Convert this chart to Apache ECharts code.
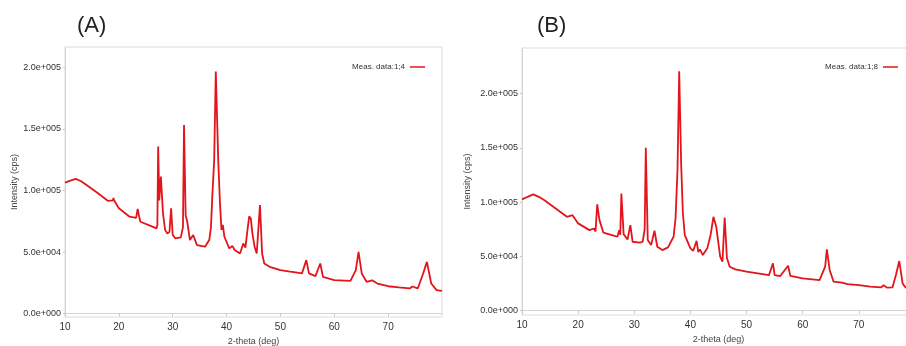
<!DOCTYPE html>
<html>
<head>
<meta charset="utf-8">
<script src="https://cdn.jsdelivr.net/npm/echarts@6/dist/echarts.min.js"></script>
<style>
  html, body { margin: 0; padding: 0; background: #fff; }
  #chart { width: 906px; height: 346px; }
</style>
</head>
<body>
<div id="chart"></div>
<script>
// 2-theta (deg) and intensity (cps)
const thetaA = [10, 11, 12, 13, 14, 16, 18, 18.9, 19, 19.1, 20, 22, 23.2, 23.5, 23.8, 24, 26, 27, 27.15, 27.3, 27.5, 27.8, 28.2, 28.6, 29, 29.4, 29.7, 30, 30.5, 31.5, 31.9, 32.1, 32.4, 32.7, 33.2, 33.8, 34.5, 36, 36.8, 37.1, 37.35, 37.7, 38.0, 38.45, 38.75, 39.05, 39.3, 39.6, 40.5, 41.1, 41.5, 42.5, 43.1, 43.5, 43.8, 44.2, 44.5, 44.8, 45.2, 45.6, 46.2, 46.6, 47, 48, 50, 51.8, 52, 52.2, 54, 54.8, 55.3, 56.5, 57.4, 57.9, 60, 63, 64, 64.5, 65.1, 66, 67, 67.3, 68, 70, 72, 74, 74.5, 75.5, 76.5, 77.2, 78, 79, 80]
const intensityA = [106400, 108000, 109400, 107500, 104500, 98200, 91500, 92000, 94000, 92000, 85500, 78700, 77800, 85000, 78000, 74600, 71100, 69200, 72000, 135700, 92000, 111300, 81000, 67800, 65100, 66500, 85500, 63800, 61000, 61900, 70000, 153300, 80000, 74600, 59700, 63800, 55600, 54300, 60000, 70000, 95000, 125000, 196700, 125000, 92000, 68000, 72000, 62400, 53000, 54800, 51600, 48800, 57000, 53500, 65000, 79000, 77300, 65000, 54300, 48800, 88200, 48800, 40700, 38000, 35300, 34000, 35500, 33900, 32600, 43400, 32600, 30400, 40700, 29800, 27100, 26600, 35300, 50200, 32600, 25800, 27000, 27800, 24400, 22200, 21200, 20400, 22000, 20400, 32600, 42000, 24400, 19000, 18500]

const thetaB = [10, 11, 12, 13, 14, 16, 18, 19, 20, 22, 22.8, 23.1, 23.4, 23.8, 24.5, 26, 27, 27.3, 27.5, 27.7, 28.1, 28.8, 29.3, 29.7, 31, 31.5, 31.85, 32.05, 32.4, 33, 33.6, 34.1, 35, 36, 37, 37.35, 37.7, 38.0, 38.35, 38.65, 39, 40, 40.5, 41.1, 41.4, 41.7, 42.2, 43, 43.6, 44.1, 44.6, 45.3, 45.7, 46.1, 46.5, 47, 48, 50, 52, 54, 54.7, 55, 56, 57.4, 57.8, 60, 63, 64, 64.3, 64.8, 65.5, 67, 67.3, 68, 70, 72, 74, 74.4, 75, 76, 76.6, 77.2, 77.8, 78.2, 79, 80]
const intensityB = [102500, 104900, 107100, 104900, 101800, 94200, 86500, 88000, 80400, 74200, 75700, 73000, 98000, 83400, 71800, 69600, 68100, 74200, 70000, 108000, 70500, 65600, 78800, 63500, 62600, 63500, 75000, 150000, 65000, 60400, 73600, 58900, 55800, 58300, 68100, 85000, 130000, 220500, 135000, 90000, 69600, 57400, 55200, 64400, 54000, 56400, 51200, 57400, 70000, 86500, 77300, 49700, 45100, 85900, 48500, 40500, 38000, 35900, 34400, 32800, 43600, 32800, 31900, 41400, 32000, 29800, 28200, 40500, 56400, 37500, 26700, 25800, 27600, 24500, 23600, 22100, 21500, 23500, 21200, 21500, 32800, 45700, 25000, 22000, 19000, 18500]

const yTicks = [0, 50000, 100000, 150000, 200000]
const xTicks = [10, 20, 30, 40, 50, 60, 70]

const chart = echarts.init(document.getElementById('chart'))

const fontFamily = "'Liberation Sans', Arial, sans-serif"
const lineColor = '#e3141b'

function sci (v) {
  if (v === 0) return '0.0e+000'
  const e = Math.floor(Math.log10(v))
  const m = (v / Math.pow(10, e)).toFixed(1)
  return m + 'e+' + String(e).padStart(3, '0')
}

function makeX (gridIndex, gap) {
  return {
    type: 'value',
    gridIndex: gridIndex,
    min: 10,
    max: 80,
    name: '2-theta (deg)',
    nameLocation: 'middle',
    nameGap: gap,
    nameTextStyle: { color: '#444', fontSize: 9, fontFamily: fontFamily },
    splitLine: { show: false },
    axisLine: { lineStyle: { color: '#d4d4d4' } },
    axisTick: { customValues: xTicks, length: 3, lineStyle: { color: '#c8c8c8' } },
    axisLabel: { customValues: xTicks, color: '#333', fontSize: 10, margin: 5, fontFamily: fontFamily }
  }
}

function makeY (gridIndex, min, max, gap) {
  return {
    type: 'value',
    gridIndex: gridIndex,
    min: min,
    max: max,
    name: 'Intensity (cps)',
    nameLocation: 'middle',
    nameRotate: 90,
    nameGap: gap,
    nameTextStyle: { color: '#444', fontSize: 9, fontFamily: fontFamily },
    splitLine: { show: false },
    axisLine: { show: true, lineStyle: { color: '#d4d4d4' } },
    axisTick: { show: true, customValues: yTicks, length: 2, lineStyle: { color: '#c8c8c8' } },
    axisLabel: {
      customValues: yTicks,
      color: '#333',
      fontSize: 9,
      margin: 4,
      fontFamily: fontFamily,
      formatter: sci
    }
  }
}

function makeLegend (name, right) {
  return {
    data: [name],
    right: right,
    top: 58,
    align: 'right',
    icon: 'rect',
    itemWidth: 15,
    itemHeight: 1.5,
    itemGap: 6,
    textStyle: { color: '#333', fontSize: 8, fontFamily: fontFamily }
  }
}

function makeSeries (name, idx, xs, ys) {
  return {
    name: name,
    type: 'line',
    xAxisIndex: idx,
    yAxisIndex: idx,
    showSymbol: false,
    symbol: 'none',
    animation: false,
    lineStyle: { color: lineColor, width: 1.8 },
    itemStyle: { color: lineColor },
    data: xs.map((x, i) => [x, ys[i]])
  }
}

const option = {
  backgroundColor: '#fff',
  animation: false,
  title: [
    { text: '(A)', left: 72, top: 10, textStyle: { color: '#222', fontSize: 22, fontWeight: 'normal', fontFamily: fontFamily } },
    { text: '(B)', left: 532, top: 10, textStyle: { color: '#222', fontSize: 22, fontWeight: 'normal', fontFamily: fontFamily } }
  ],
  legend: [
    makeLegend('Meas. data:1;4', 476),
    makeLegend('Meas. data:1;8', 3)
  ],
  grid: [
    { left: 65, top: 47, right: 464, bottom: 29, outerBoundsMode: 'none', show: true, borderColor: '#dcdcdc', borderWidth: 1, backgroundColor: '#fff' },
    { left: 522, top: 48, right: -9, bottom: 31, outerBoundsMode: 'none', show: true, borderColor: '#dcdcdc', borderWidth: 1, backgroundColor: '#fff' }
  ],
  xAxis: [makeX(0, 20), makeX(1, 19)],
  yAxis: [makeY(0, -2800, 216600, 46), makeY(1, -4000, 242000, 50)],
  series: [
    makeSeries('Meas. data:1;4', 0, thetaA, intensityA),
    makeSeries('Meas. data:1;8', 1, thetaB, intensityB)
  ]
}

chart.setOption(option)
</script>
</body>
</html>
